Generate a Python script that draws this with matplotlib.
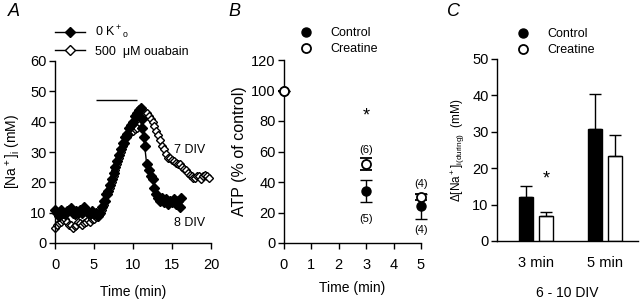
import numpy as np
import matplotlib.pyplot as plt
from matplotlib.lines import Line2D

plt.rcParams['font.family'] = ['Liberation Sans', 'DejaVu Sans']
plt.rcParams['mathtext.fontset'] = 'custom'
plt.rcParams['mathtext.rm'] = 'Liberation Sans'
plt.rcParams['mathtext.it'] = 'Liberation Sans:italic'
plt.rcParams['font.size'] = 10

# panel A: [Na+]i time courses
t_8div = [0, 0.25, 0.5, 0.75, 1.0, 1.25, 1.5, 1.75, 2.0, 2.25, 2.5, 2.75, 3.0, 3.25, 3.5, 3.75,
          4.0, 4.25, 4.5, 4.75, 5.0, 5.25, 5.5, 5.75, 6.0, 6.25, 6.5, 6.75, 7.0, 7.25, 7.5, 7.75,
          8.0, 8.25, 8.5, 8.75, 9.0, 9.25, 9.5, 9.75, 10.0, 10.25, 10.5, 10.75, 11.0, 11.1, 11.2,
          11.35, 11.5, 11.75, 12.0, 12.25, 12.5, 12.75, 13.0, 13.25, 13.5, 13.75, 14.0, 14.25,
          14.5, 14.75, 15.0, 15.25, 15.5, 15.75, 16.0, 16.2]
na_8div = [11, 10, 9, 11, 10, 9.5, 10.5, 11, 11.5, 10, 9.5, 10.5, 10, 11, 10, 12,
           11, 10, 9.5, 10.5, 9.5, 10, 9, 10, 12, 14, 16, 17, 19, 21, 23, 25,
           27, 29, 31, 33, 35, 36, 38, 39, 40, 42, 43, 44, 44.5, 41, 38,
           35, 32, 26, 24, 22, 21, 18, 16, 15, 14, 15, 13.5, 14.5,
           13, 14, 13.5, 14.5, 13, 14, 12, 15]

t_7div = [0, 0.25, 0.5, 0.75, 1.0, 1.25, 1.5, 1.75, 2.0, 2.25, 2.5, 2.75, 3.0, 3.25, 3.5, 3.75,
          4.0, 4.25, 4.5, 4.75, 5.0, 5.25, 5.5, 5.75, 6.0, 6.25, 6.5, 6.75, 7.0, 7.25, 7.5, 7.75,
          8.0, 8.25, 8.5, 8.75, 9.0, 9.25, 9.5, 9.75, 10.0, 10.25, 10.5, 10.75, 11.0, 11.25, 11.5,
          11.75, 12.0, 12.25, 12.5, 12.75, 13.0, 13.25, 13.5, 13.75, 14.0, 14.25, 14.5, 14.75,
          15.0, 15.25, 15.5, 15.75, 16.0, 16.25, 16.5, 16.75, 17.0, 17.25, 17.5, 17.75, 18.0,
          18.25, 18.5, 18.75, 19.0, 19.25, 19.5, 19.75]
na_7div = [5, 6, 6.5, 7, 7.5, 8, 7, 6, 6, 5, 5.5, 6, 7, 6.5, 6, 6.5,
           7, 7.5, 7, 8, 8, 8.5, 9, 9.5, 11, 12.5, 14, 16, 18, 20, 22, 24,
           26, 28, 30, 32, 33, 35, 36, 37, 37, 37.5, 38, 40, 41, 42, 43,
           43, 42, 41, 40, 38.5, 37, 35.5, 34, 32, 31, 29.5, 28, 28,
           27.5, 27, 26.5, 26, 26, 25, 24.5, 24, 23, 22.5, 22, 21.5, 21.5,
           22, 22, 21, 22, 22.5, 22, 21.5]

# panel B: ATP
b_time = [0, 3, 5]
atp_control = [100, 34, 24]
atp_control_err = [0, 7, 8]
atp_creatine = [100, 52, 30]
atp_creatine_err = [0, 4, 2]

# panel C: delta [Na+]i
c_labels = ['3 min', '5 min']
dna_control = [12.2, 30.7]
dna_control_err = [3.0, 9.7]
dna_creatine = [6.9, 23.4]
dna_creatine_err = [1.0, 5.8]

W, H = 640, 299
fig = plt.figure(figsize=(6.4, 2.99), dpi=100)


def axes_px(x0, x1, y0, y1):
    return fig.add_axes([x0 / W, 1 - y0 / H, (x1 - x0) / W, (y0 - y1) / H])


def style(ax):
    for s in ['top', 'right']:
        ax.spines[s].set_visible(False)
    ax.tick_params(direction='out', length=4, width=1, labelsize=10.5)
    ax.tick_params(axis='y', pad=2)
    ax.tick_params(axis='x', pad=7)
    for s in ['left', 'bottom']:
        ax.spines[s].set_linewidth(1)


# ---- A
axA = axes_px(55, 211, 243, 61)
style(axA)
axA.plot(t_8div, na_8div, '-D', color='black', ms=5, lw=1, mfc='black', mec='black',
         clip_on=False, zorder=3)
axA.plot(t_7div, na_7div, 'D', color='black', ms=4.5, mfc='white', mec='black', mew=1,
         clip_on=False, zorder=2)
axA.hlines(47, 5.3, 10.5, color='black', lw=1)
axA.text(15.3, 30.5, '7 DIV', fontsize=9, va='center')
axA.text(15.2, 6.5, '8 DIV', fontsize=9, va='center')
axA.set_xlim(0, 20)
axA.set_ylim(0, 60)
axA.set_xticks([0, 5, 10, 15, 20])
axA.set_yticks(range(0, 61, 10))
axA.set_xlabel('Time (min)', fontsize=10, labelpad=9)
axA.set_ylabel('[Na$^+$]$_\\mathrm{i}$ (mM)', fontsize=10, labelpad=5)
handlesA = [Line2D([], [], color='black', lw=1, marker='D', ms=5, mfc='black'),
            Line2D([], [], color='black', lw=1, marker='D', ms=5, mfc='white')]
axA.legend(handlesA, ['0 K$^+$$_\\mathrm{o}$', '500  \u03bcM ouabain'], frameon=False,
           fontsize=9, loc='upper left', bbox_to_anchor=(55 / W, 1 - 24 / H),
           bbox_transform=fig.transFigure, handlelength=2.4, handletextpad=0.8,
           labelspacing=0.35, borderpad=0, borderaxespad=0)

# ---- B
axB = axes_px(284, 421, 243, 60)
style(axB)
axB.errorbar(b_time, atp_control, yerr=atp_control_err, fmt='o', color='black', ms=6.5,
             mfc='black', mec='black', capsize=4, elinewidth=1, capthick=1,
             clip_on=False, zorder=3)
axB.errorbar(b_time, atp_creatine, yerr=atp_creatine_err, fmt='o', color='black', ms=6.5,
             mfc='white', mec='black', mew=1.3, capsize=4, elinewidth=1, capthick=1,
             clip_on=False, zorder=4)
axB.text(3, 83, '*', fontsize=13, ha='center', va='center')
axB.text(3, 61, '(6)', fontsize=8, ha='center', va='center')
axB.text(3, 16, '(5)', fontsize=8, ha='center', va='center')
axB.text(5, 39, '(4)', fontsize=8, ha='center', va='center')
axB.text(5, 8.5, '(4)', fontsize=8, ha='center', va='center')
axB.set_xlim(0, 5)
axB.set_ylim(0, 120)
axB.set_xticks(range(0, 6))
axB.set_yticks(range(0, 121, 20))
axB.set_xlabel('Time (min)', fontsize=10, labelpad=6)
axB.set_ylabel('ATP (% of control)', fontsize=11.5, labelpad=3)
handlesB = [Line2D([], [], ls='none', marker='o', ms=6.5, mfc='black', mec='black'),
            Line2D([], [], ls='none', marker='o', ms=6.5, mfc='white', mec='black', mew=1.3)]
axB.legend(handlesB, ['Control', 'Creatine'], frameon=False, fontsize=9,
           loc='upper left', bbox_to_anchor=(297 / W, 1 - 27 / H),
           bbox_transform=fig.transFigure, handlelength=1.5, handletextpad=1.2,
           labelspacing=0.35, borderpad=0, borderaxespad=0)

# ---- C
axC = axes_px(497, 638, 241, 59)
style(axC)
x = np.arange(len(c_labels))
off = 0.29
bw = 0.19
axC.bar(x - off / 2, dna_control, bw, yerr=[np.zeros(2), dna_control_err], color='black',
        edgecolor='black', lw=1, capsize=4, error_kw=dict(elinewidth=1, capthick=1))
axC.bar(x + off / 2, dna_creatine, bw, yerr=[np.zeros(2), dna_creatine_err], color='white',
        edgecolor='black', lw=1, capsize=4, error_kw=dict(elinewidth=1, capthick=1))
axC.text(x[0] + off / 2, 17, '*', fontsize=13, ha='center', va='center')
axC.set_xlim(-0.565, 1.478)
axC.set_ylim(0, 50)
axC.set_xticks(x)
axC.set_xticklabels(c_labels)
axC.tick_params(axis='x', length=0, pad=11)
axC.set_yticks(range(0, 51, 10))
axC.set_xlabel('6 - 10 DIV', fontsize=10, labelpad=11)
axC.set_ylabel('\u0394[Na$^+$]$_\\mathrm{i(during)}$  (mM)', fontsize=8.5, labelpad=4)
axC.legend(handlesB, ['Control', 'Creatine'], frameon=False, fontsize=9,
           loc='upper left', bbox_to_anchor=(514 / W, 1 - 28 / H),
           bbox_transform=fig.transFigure, handlelength=1.5, handletextpad=1.2,
           labelspacing=0.35, borderpad=0, borderaxespad=0)

for lab, px in [('A', 8), ('B', 228), ('C', 447)]:
    fig.text(px / W, 1 - 11 / H, lab, fontsize=13, style='italic', va='center')

fig.savefig('out.png', dpi=100)
